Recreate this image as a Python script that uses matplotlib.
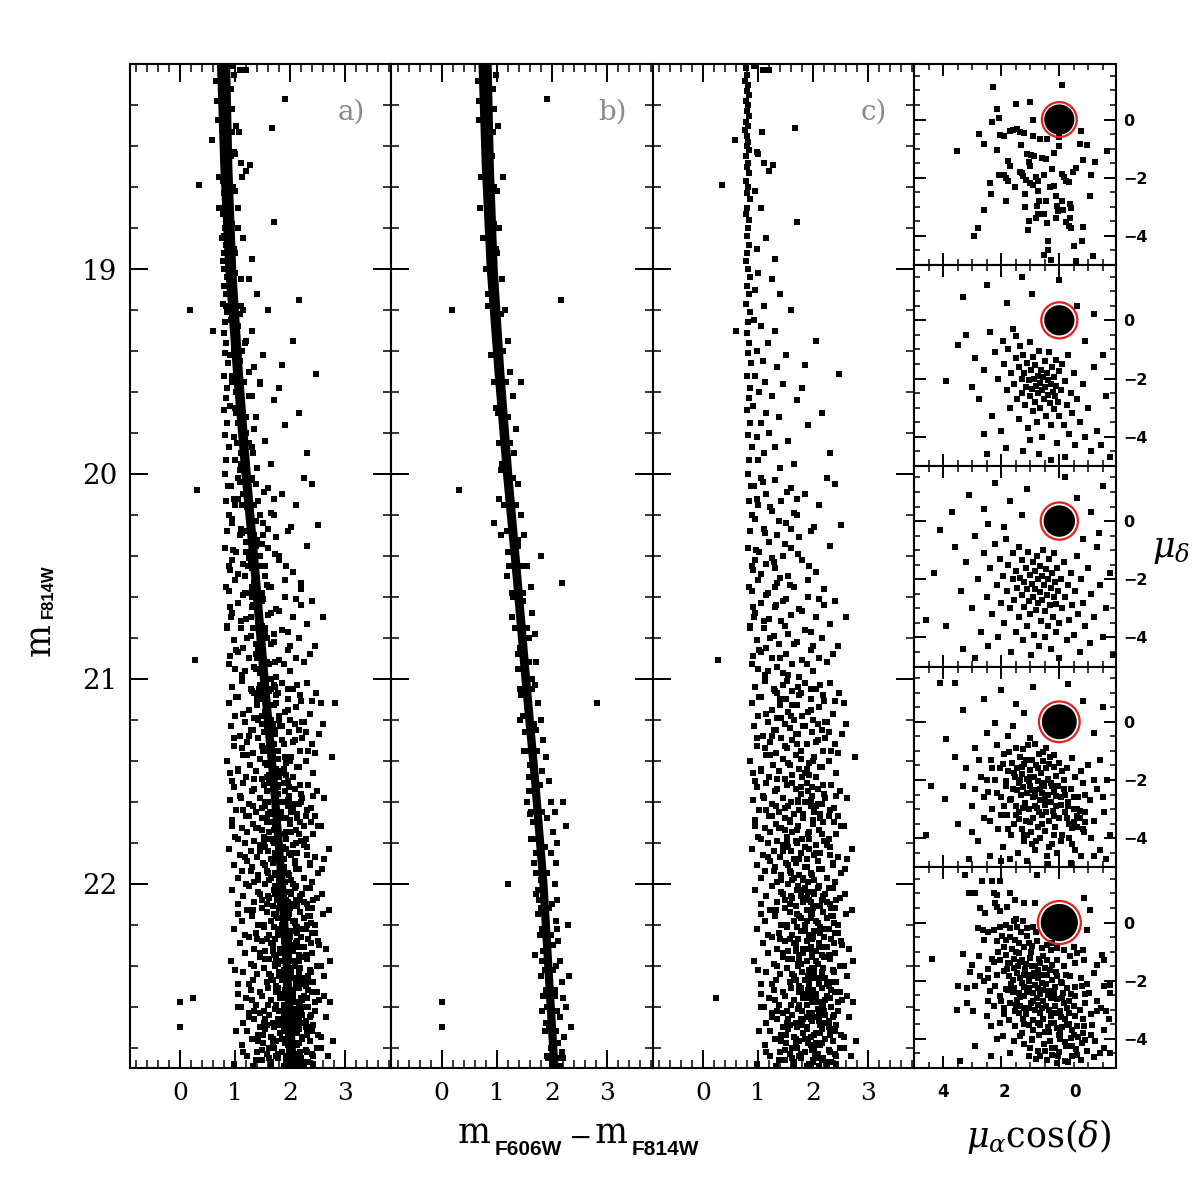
import numpy as np
import matplotlib
matplotlib.use('Agg')
import matplotlib.pyplot as plt
from matplotlib.ticker import MultipleLocator
from matplotlib.patches import Circle

# ---------------- data ----------------
# fiducial ridge of the proper-motion selected members (panel b): mag, colour, width
ridge_mag = [18.0, 18.5, 19.0, 19.5, 20.0, 20.5, 21.0, 21.5, 22.0, 22.5, 22.9]
ridge_col = [0.78, 0.83, 0.91, 1.04, 1.19, 1.36, 1.52, 1.69, 1.84, 1.95, 2.04]
ridge_wid = [0.24, 0.22, 0.20, 0.18, 0.17, 0.16, 0.16, 0.15, 0.15, 0.15, 0.15]

# members scattered around the ridge (colour, mag)
members = [
 (0.98,18.05),(0.95,18.22),(1.02,18.30),(0.92,18.45),(1.00,18.62),(0.70,18.70),(1.05,18.80),(0.98,18.90),(1.91,18.17),(1.12,18.55),
 (1.10,19.05),(0.85,19.12),(1.15,19.20),(1.20,19.35),(0.95,19.42),(1.25,19.50),(1.30,19.62),(1.02,19.70),(1.35,19.78),(1.32,19.90),
 (1.10,19.95),(0.18,19.20),(2.16,19.15),(1.45,19.55),
 (1.38,20.05),(1.05,20.12),(1.45,20.20),(1.50,20.30),(1.20,20.38),(1.55,20.45),(1.62,20.55),(1.30,20.60),(1.65,20.68),(1.70,20.78),
 (1.42,20.85),(1.72,20.92),(0.31,20.08),(0.95,20.24),(2.19,20.53),(1.80,20.40),
 (1.70,21.03),(1.45,21.08),(1.75,21.12),(1.80,21.20),(1.52,21.26),(1.85,21.30),(1.90,21.38),(1.60,21.42),(1.95,21.50),(1.58,21.55),
 (1.98,21.60),(2.05,21.65),(1.66,21.70),(2.02,21.75),(2.10,21.80),(1.72,21.85),(2.08,21.90),(1.75,21.95),(2.82,21.12),(2.25,21.72),
 (2.20,21.60),(1.60,21.66),(1.68,21.90),
 (2.05,22.00),(1.75,22.03),(2.10,22.08),(1.80,22.12),(2.08,22.18),(1.82,22.22),(2.12,22.28),(1.85,22.33),(2.15,22.38),(1.88,22.42),
 (2.18,22.48),(1.90,22.52),(2.20,22.56),(1.92,22.60),(2.15,22.65),(1.95,22.70),(2.22,22.75),(1.98,22.80),(2.20,22.85),(2.00,22.88),
 (1.20,22.00),(0.00,22.58),(0.00,22.70),(2.30,22.20),(2.32,22.45),(2.35,22.70),(1.70,22.35),
 (1.78,21.52),(1.55,21.60),(1.62,21.78),(1.92,21.68),(1.80,21.98),(1.98,21.85),(1.72,22.05),(2.00,22.10),(1.78,22.25),(2.02,22.30),
 (1.80,22.45),(2.08,22.40),(1.85,22.55),(2.10,22.62),(1.88,22.72),(2.12,22.78),(1.92,22.84),(2.15,22.89),(1.82,22.62),(2.05,22.52),
 (2.10,22.22),(1.75,22.15),(2.25,22.60),(2.18,22.82),(1.50,21.35),(1.82,21.45),(1.42,21.20),(1.72,21.25),(1.38,20.95),(1.65,21.00),
 (1.28,20.70),(1.58,20.80),(1.18,20.50),(1.48,20.58),(1.08,20.30),(1.38,20.35),(1.30,20.15),
 (0.66,18.08),(0.93,18.12),(0.68,18.27),(0.94,18.33),(0.71,18.55),(0.96,18.60),(0.76,18.85),(1.00,18.92),(0.84,19.18),(1.08,19.22),
 (0.90,19.42),(1.12,19.40),(0.99,19.68),(1.20,19.72),(1.08,19.98),(1.30,20.02),(1.18,20.28),(1.39,20.32),(1.28,20.58),(1.48,20.62),
 (1.38,20.88),(1.58,20.92),(1.48,21.18),(1.68,21.22),(1.58,21.48),(1.78,21.52),(1.68,21.78),(1.87,21.82),(1.76,22.08),(1.95,22.12),
 (1.83,22.38),(2.02,22.42),(1.90,22.68),(2.08,22.72),(0.67,18.18),(0.92,18.45),(0.95,18.78),(0.80,19.00),(1.16,19.55),(0.95,19.55),
 (1.25,19.85),(1.04,19.85),(1.35,20.15),(1.13,20.15),(1.45,20.45),(1.23,20.45),(1.55,20.75),(1.33,20.75),(1.65,21.05),(1.43,21.05),
 (1.74,21.35),(1.53,21.35),(1.83,21.65),(1.63,21.65),(1.92,21.95),(1.72,21.95),(1.98,22.25),(1.79,22.25),(2.05,22.55),(1.86,22.55),
 (2.11,22.85),(1.93,22.85),
]

# field stars (panel c), colour, mag
field = [
 (0.78,18.02),(0.80,18.05),(0.76,18.08),(0.82,18.10),(0.79,18.13),(0.84,18.15),(0.77,18.18),(0.81,18.20),(0.80,18.23),(0.83,18.25),
 (0.78,18.28),(0.81,18.30),(0.76,18.32),(0.80,18.35),(0.82,18.38),(0.79,18.40),(0.84,18.42),(0.77,18.45),(0.81,18.48),(0.80,18.50),
 (0.83,18.53),(0.78,18.57),(0.82,18.60),(0.79,18.63),(0.85,18.66),(0.80,18.70),(0.77,18.73),(0.83,18.76),(0.81,18.80),(0.79,18.84),
 (0.84,18.88),(0.80,18.92),(0.78,18.96),(0.82,19.00),(0.86,19.04),(0.80,19.08),(0.83,19.12),(0.78,19.17),(0.85,19.21),(0.81,19.26),
 (0.79,19.31),(0.84,19.36),(0.82,19.41),(0.87,19.46),(0.80,19.52),(0.85,19.58),(0.83,19.63),(0.79,19.69),(0.86,19.75),(0.82,19.81),
 (0.88,19.87),(0.84,19.93),(0.81,20.00),(0.87,20.06),(0.83,20.13),(0.89,20.20),(0.85,20.28),(0.82,20.36),(0.88,20.45),(0.84,20.55),
 (0.90,20.65),(0.86,20.75),
 (0.92,18.01),(1.09,18.03),(1.20,18.03),(1.66,18.31),(1.07,18.33),(0.58,18.37),(0.97,18.43),(1.00,18.44),(1.10,18.48),(1.27,18.49),
 (1.20,18.52),(0.34,18.59),(0.95,18.62),(1.05,18.70),(1.71,18.77),(1.15,18.85),(0.98,18.90),(1.30,18.95),
 (1.00,19.02),(1.25,19.05),(0.95,19.10),(1.40,19.12),(1.10,19.18),(1.60,19.20),(0.93,19.25),(1.05,19.28),(1.30,19.30),(1.18,19.36),
 (0.98,19.40),(1.50,19.42),(1.08,19.45),(1.35,19.48),(2.05,19.35),(1.85,19.47),(0.60,19.30),
 (0.95,19.52),(1.12,19.55),(1.45,19.56),(1.02,19.60),(1.25,19.62),(1.70,19.64),(0.90,19.67),(1.15,19.70),(1.38,19.72),(1.05,19.75),
 (1.90,19.76),(1.20,19.80),(0.97,19.82),(1.55,19.84),(1.30,19.87),(1.10,19.90),(2.30,19.90),(1.00,19.93),(1.65,19.95),(1.40,19.97),
 (2.47,19.51),(1.80,19.58),(2.15,19.70),
 (1.05,20.02),(1.30,20.03),(2.25,20.02),(2.40,20.05),(0.92,20.06),(1.60,20.07),(1.15,20.10),(1.85,20.10),(1.42,20.13),(1.00,20.15),
 (2.10,20.15),(1.25,20.18),(1.70,20.20),(0.95,20.22),(1.50,20.24),(1.10,20.27),(1.95,20.28),(1.35,20.30),(1.20,20.33),(2.30,20.35),
 (1.60,20.36),(1.02,20.38),(1.45,20.40),(1.80,20.42),(1.15,20.44),(1.30,20.46),(0.90,20.47),(2.05,20.48),(1.55,20.50),(1.75,20.31),
 (2.50,20.25),(1.25,20.41),
 (1.00,20.52),(1.35,20.53),(1.65,20.55),(2.20,20.56),(0.88,20.57),(1.18,20.58),(1.90,20.60),(1.50,20.61),(2.40,20.62),(1.05,20.63),
 (1.30,20.65),(1.75,20.66),(0.95,20.68),(1.60,20.69),(2.05,20.70),(1.20,20.71),(1.42,20.72),(2.30,20.73),(0.85,20.74),(1.10,20.75),
 (1.85,20.76),(1.55,20.78),(1.28,20.79),(2.15,20.80),(0.98,20.81),(1.70,20.82),(1.38,20.83),(2.45,20.84),(1.15,20.85),(1.95,20.86),
 (1.05,20.87),(1.50,20.88),(0.90,20.89),(1.25,20.90),(1.80,20.91),(2.25,20.92),(1.62,20.93),(1.35,20.94),(1.00,20.95),(2.00,20.96),
 (1.45,20.97),(1.12,20.98),(1.75,20.99),(0.27,20.91),(2.60,20.70),(1.90,20.52),(2.10,20.90),
 (1.08,20.04),(1.52,20.09),(0.98,20.12),(1.22,20.16),(1.65,20.19),(1.38,20.23),(2.02,20.26),(1.12,20.29),(1.48,20.34),(0.96,20.37),
 (1.72,20.39),(1.28,20.43),(1.92,20.45),(1.05,20.49),(1.40,20.51),(1.58,20.54),(1.15,20.59),(2.10,20.61),(1.32,20.64),(1.80,20.67),
 (0.92,20.70),(1.48,20.74),(1.95,20.77),(1.22,20.80),(1.65,20.83),(1.02,20.86),(2.35,20.88),(1.40,20.90),(1.88,20.93),(1.18,20.96),
 (1.55,20.98),(2.20,20.64),(0.95,20.42),(1.70,20.12),(2.00,20.84),(1.30,20.55),(0.88,20.93),(1.60,20.27),(1.10,20.72),(1.45,20.62),
 (1.12,21.01),(1.85,21.02),(2.31,21.02),(1.45,21.03),(0.95,21.04),(2.05,21.05),(1.61,21.06),(1.30,21.06),(2.46,21.07),(1.75,21.08),
 (1.05,21.09),(1.95,21.10),(1.50,21.10),(2.20,21.11),(0.88,21.12),(1.40,21.13),(1.70,21.13),(2.10,21.14),(1.25,21.15),(1.90,21.16),
 (1.55,21.16),(2.35,21.17),(1.00,21.18),(1.80,21.18),(1.35,21.19),(2.00,21.20),(1.65,21.20),(1.18,21.21),(2.25,21.21),(1.48,21.22),
 (1.82,21.23),(0.92,21.23),(1.58,21.24),(2.15,21.25),(1.28,21.25),(1.98,21.26),(1.72,21.27),(2.52,21.27),(1.08,21.28),(1.42,21.29),
 (2.08,21.30),(1.62,21.30),(1.22,21.31),(1.88,21.32),(2.40,21.32),(0.98,21.33),(1.52,21.34),(1.78,21.35),(2.18,21.35),(1.32,21.36),
 (1.68,21.37),(1.15,21.37),(2.02,21.38),(1.45,21.39),(2.28,21.40),(0.85,21.40),(1.92,21.41),(1.58,21.42),(1.26,21.42),(2.12,21.43),
 (1.74,21.44),(1.05,21.44),(1.38,21.45),(2.42,21.46),(1.85,21.46),(1.62,21.47),(1.20,21.48),(2.05,21.48),(1.48,21.49),(0.95,21.50),
 (2.60,21.22),(2.75,21.38),(1.95,21.05),(1.35,21.07),(2.22,21.29),
 (1.52,21.01),(2.12,21.03),(1.28,21.05),(1.78,21.07),(1.02,21.09),(2.40,21.11),(1.62,21.13),(1.95,21.15),(1.15,21.17),(1.42,21.19),
 (2.22,21.21),(1.85,21.23),(1.32,21.25),(1.68,21.27),(0.98,21.29),(2.05,21.31),(1.48,21.33),(2.32,21.35),(1.22,21.37),(1.78,21.39),
 (1.55,21.41),(2.15,21.43),(1.05,21.45),(1.92,21.47),(1.35,21.49),(2.55,21.12),(1.72,21.04),(2.28,21.26),(1.12,21.34),(1.88,21.44),
 (1.60,21.18),(2.00,21.40),(1.40,21.10),(2.45,21.36),(1.80,21.48),(1.25,21.28),(2.18,21.08),(1.70,21.32),(0.90,21.46),(2.08,21.22),
 (1.15,21.51),(1.88,21.51),(2.32,21.52),(1.52,21.52),(0.98,21.53),(2.08,21.54),(1.68,21.54),(1.30,21.55),(2.48,21.55),(1.78,21.56),
 (1.08,21.57),(1.98,21.57),(1.45,21.58),(2.22,21.58),(0.90,21.59),(1.60,21.60),(1.85,21.60),(2.15,21.61),(1.25,21.61),(1.95,21.62),
 (1.55,21.62),(2.38,21.63),(1.02,21.64),(1.75,21.64),(1.38,21.65),(2.02,21.65),(1.65,21.66),(1.20,21.67),(2.28,21.67),(1.48,21.68),
 (1.82,21.68),(0.95,21.69),(1.58,21.69),(2.18,21.70),(1.32,21.71),(2.00,21.71),(1.72,21.72),(2.55,21.72),(1.12,21.73),(1.42,21.73),
 (2.10,21.74),(1.62,21.75),(1.22,21.75),(1.90,21.76),(2.42,21.76),(1.00,21.77),(1.52,21.77),(1.80,21.78),(2.20,21.79),(1.35,21.79),
 (1.70,21.80),(1.18,21.80),(2.05,21.81),(1.45,21.81),(2.30,21.82),(0.88,21.83),(1.92,21.83),(1.60,21.84),(1.28,21.84),(2.12,21.85),
 (1.78,21.85),(1.08,21.86),(1.40,21.87),(2.45,21.87),(1.88,21.88),(1.65,21.88),(1.22,21.89),(2.08,21.89),(1.50,21.90),(0.98,21.91),
 (2.35,21.91),(1.85,21.92),(1.30,21.92),(2.15,21.93),(1.58,21.94),(1.12,21.94),(1.95,21.95),(2.50,21.95),(1.42,21.96),(1.75,21.96),
 (2.25,21.97),(1.05,21.97),(1.62,21.98),(2.02,21.98),(1.35,21.99),(1.90,21.99),(2.62,21.58),(2.70,21.83),(2.58,21.93),(1.98,21.53),
 (1.72,21.59),(2.12,21.66),(1.48,21.74),(1.92,21.78),(2.30,21.86),(1.68,21.90),(2.05,21.62),(1.55,21.82),(2.38,21.70),(1.82,21.97),
 (1.62,21.51),(2.18,21.52),(1.35,21.54),(1.90,21.55),(2.42,21.57),(1.10,21.58),(1.72,21.60),(2.08,21.61),(1.48,21.63),(2.30,21.64),
 (1.82,21.66),(1.25,21.67),(2.00,21.69),(1.58,21.70),(2.50,21.72),(1.38,21.73),(1.92,21.75),(2.15,21.76),(1.05,21.78),(1.68,21.79),
 (2.25,21.81),(1.85,21.82),(1.45,21.84),(2.05,21.85),(1.18,21.87),(1.75,21.88),(2.35,21.90),(1.55,21.91),(2.10,21.93),(1.28,21.94),
 (1.98,21.96),(1.65,21.97),(2.40,21.99),(1.42,21.98),(0.95,21.72),(2.62,21.88),(1.78,21.53),(2.12,21.68),(1.52,21.80),(1.88,21.92),
 (2.20,21.56),(1.32,21.62),(1.70,21.74),(2.02,21.86),(1.60,21.95),(2.28,21.78),(1.15,21.64),(1.95,21.59),(2.45,21.67),(1.82,21.98),
 (1.55,22.00),(2.10,22.01),(1.25,22.01),(1.85,22.02),(2.35,22.02),(1.70,22.03),(0.95,22.03),(2.00,22.04),(1.45,22.05),(2.22,22.05),
 (1.78,22.06),(1.15,22.06),(2.48,22.07),(1.62,22.07),(1.92,22.08),(2.15,22.08),(1.35,22.09),(1.82,22.09),(2.30,22.10),(1.05,22.10),
 (1.68,22.11),(2.05,22.11),(1.48,22.12),(2.40,22.12),(1.88,22.13),(1.22,22.13),(2.18,22.14),(1.58,22.14),(1.98,22.15),(2.60,22.15),
 (1.30,22.16),(1.75,22.16),(2.25,22.17),(1.95,22.17),(1.12,22.18),(1.65,22.18),(2.08,22.19),(2.38,22.19),(1.42,22.20),(1.85,22.20),
 (2.12,22.21),(1.52,22.21),(0.98,22.22),(2.28,22.22),(1.78,22.23),(2.02,22.23),(1.38,22.24),(2.45,22.24),(1.62,22.25),(1.92,22.25),
 (2.20,22.26),(1.25,22.26),(1.72,22.27),(2.32,22.27),(1.88,22.28),(1.48,22.28),(2.10,22.29),(1.08,22.29),(2.52,22.30),(1.68,22.30),
 (1.95,22.31),(2.25,22.31),(1.35,22.32),(1.82,22.32),(2.05,22.33),(1.55,22.33),(2.40,22.34),(1.18,22.34),(1.75,22.35),(2.15,22.35),
 (1.98,22.36),(1.45,22.36),(2.30,22.37),(1.62,22.37),(0.92,22.38),(1.88,22.38),(2.08,22.39),(1.28,22.39),(2.48,22.40),(1.72,22.40),
 (2.18,22.41),(1.52,22.41),(1.92,22.42),(2.35,22.42),(1.15,22.43),(1.80,22.43),(2.02,22.44),(1.40,22.44),(2.62,22.45),(1.65,22.45),
 (2.22,22.46),(1.95,22.46),(1.32,22.47),(1.85,22.47),(2.42,22.48),(1.58,22.48),(2.10,22.49),(1.05,22.49),(1.75,22.50),(2.28,22.50),
 (2.70,22.13),(2.72,22.38),(1.90,22.04),(2.00,22.12),(2.12,22.24),(1.70,22.21),(2.25,22.09),(1.82,22.34),(2.05,22.46),(1.60,22.06),
 (2.32,22.16),(1.98,22.27),(2.15,22.43),(1.88,22.18),(2.38,22.29),(1.78,22.39),(2.08,22.02),(1.68,22.33),(2.20,22.36),(1.92,22.49),
 (1.72,22.01),(2.28,22.02),(1.42,22.04),(2.02,22.05),(1.88,22.07),(2.42,22.08),(1.58,22.10),(2.12,22.11),(1.32,22.13),(1.95,22.14),
 (2.35,22.16),(1.78,22.17),(2.08,22.19),(1.52,22.20),(2.22,22.22),(1.85,22.23),(1.18,22.25),(2.00,22.26),(2.50,22.28),(1.65,22.29),
 (2.15,22.31),(1.92,22.32),(1.45,22.34),(2.28,22.35),(1.75,22.37),(2.05,22.38),(1.35,22.40),(1.98,22.41),(2.38,22.43),(1.62,22.44),
 (2.12,22.46),(1.88,22.47),(1.25,22.49),(2.25,22.49),(1.80,22.03),(2.18,22.06),(1.95,22.09),(2.32,22.12),(1.70,22.15),(2.05,22.18),
 (1.85,22.21),(2.40,22.24),(1.58,22.27),(2.10,22.30),(1.98,22.33),(2.20,22.36),(1.72,22.39),(2.02,22.42),(1.90,22.45),(2.30,22.48),
 (2.58,22.05),(2.65,22.32),(1.05,22.15),(1.00,22.42),(1.48,22.08),(1.40,22.27),(2.45,22.20),(2.55,22.40),(1.55,22.37),(1.68,22.47),
 (1.60,22.51),(2.15,22.51),(1.28,22.52),(1.90,22.52),(2.40,22.53),(1.75,22.53),(1.05,22.54),(2.05,22.54),(1.48,22.55),(2.25,22.55),
 (1.82,22.56),(1.20,22.56),(2.52,22.57),(1.65,22.57),(1.98,22.58),(2.18,22.58),(1.38,22.59),(1.88,22.59),(2.32,22.60),(1.10,22.60),
 (1.72,22.61),(2.08,22.61),(1.52,22.62),(2.45,22.62),(1.92,22.63),(1.25,22.63),(2.22,22.64),(1.62,22.64),(2.02,22.65),(2.65,22.65),
 (1.35,22.66),(1.78,22.66),(2.28,22.67),(1.98,22.67),(1.15,22.68),(1.68,22.68),(2.12,22.69),(2.42,22.69),(1.45,22.70),(1.88,22.70),
 (2.15,22.71),(1.55,22.71),(1.02,22.72),(2.30,22.72),(1.82,22.73),(2.05,22.73),(1.42,22.74),(2.50,22.74),(1.65,22.75),(1.95,22.75),
 (2.22,22.76),(1.30,22.76),(1.75,22.77),(2.35,22.77),(1.90,22.78),(1.50,22.78),(2.12,22.79),(1.12,22.79),(2.55,22.80),(1.70,22.80),
 (1.98,22.81),(2.28,22.81),(1.40,22.82),(1.85,22.82),(2.08,22.83),(1.58,22.83),(2.42,22.84),(1.22,22.84),(1.78,22.85),(2.18,22.85),
 (2.00,22.86),(1.48,22.86),(2.32,22.87),(1.65,22.87),(0.98,22.88),(1.92,22.88),(2.10,22.89),(1.32,22.89),(2.48,22.53),(1.75,22.59),
 (2.20,22.62),(1.55,22.66),(2.38,22.71),(1.85,22.76),(2.02,22.80),(1.62,22.85),(2.25,22.88),(1.95,22.55),(2.10,22.64),(1.80,22.69),
 (2.30,22.74),(1.68,22.79),(2.05,22.84),(2.72,22.58),(2.78,22.77),(0.23,22.56),(2.15,22.60),(1.88,22.65),(2.40,22.83),(1.45,22.63),
 (1.78,22.51),(2.32,22.52),(1.45,22.53),(2.05,22.55),(1.92,22.56),(2.45,22.58),(1.60,22.59),(2.18,22.60),(1.35,22.62),(1.98,22.63),
 (2.38,22.64),(1.82,22.66),(2.10,22.67),(1.52,22.68),(2.28,22.70),(1.88,22.71),(1.22,22.72),(2.02,22.74),(2.55,22.75),(1.68,22.76),
 (2.15,22.78),(1.95,22.79),(1.48,22.81),(2.30,22.82),(1.78,22.83),(2.08,22.85),(1.38,22.86),(2.00,22.87),(2.42,22.88),(1.65,22.89),
 (1.85,22.54),(2.22,22.57),(1.72,22.61),(2.35,22.65),(1.58,22.69),(2.12,22.73),(1.90,22.77),(2.48,22.80),(1.75,22.84),(2.25,22.87),
 (1.05,22.60),(1.15,22.82),(2.62,22.55),(2.68,22.84),(1.30,22.57),(1.42,22.77),(2.00,22.52),(2.20,22.68),(1.62,22.80),(1.95,22.66),
 (2.08,22.58),(1.80,22.62),(2.40,22.72),(1.50,22.74),(2.15,22.86),(1.88,22.89),(2.30,22.56),(1.70,22.70),(2.05,22.78),(1.25,22.65),
]

# vector-point diagrams (mu_a cos d, mu_d) of non-members, five magnitude bins
vpd1 = [
 (2.29,1.11),(-0.08,1.18),(1.02,0.61),(1.48,0.54),(2.13,0.35),(2.08,0.06),(2.33,-0.10),(0.91,0.00),(2.75,-0.49),(2.03,-0.54),
 (1.92,-0.58),(1.71,-0.38),(1.58,-0.35),(1.44,-0.33),(1.34,-0.42),(1.21,-0.47),(0.91,-0.58),(0.68,-0.67),(0.42,-0.67),(0.01,-0.60),
 (-0.75,-0.40),(2.59,-0.83),(1.32,-0.86),(2.13,-1.03),(3.51,-1.09),(0.20,-1.14),(0.01,-0.91),(-0.70,-0.83),(-0.95,-0.88),(-1.64,-1.09),
 (1.11,-1.20),(0.98,-1.22),(0.86,-1.26),(0.60,-1.31),(0.45,-1.34),(1.76,-1.43),(-0.82,-1.40),(-1.24,-1.45),(1.69,-1.60),(1.06,-1.45),
 (1.00,-1.60),(0.24,-1.71),(-0.59,-1.66),(2.08,-1.91),(1.90,-1.89),(1.83,-2.02),(1.78,-2.11),(1.37,-1.79),(1.30,-1.84),(1.25,-1.94),
 (1.52,-2.32),(2.40,-2.17),(2.36,-2.57),(1.85,-2.80),(1.14,-2.06),(1.02,-2.17),(0.89,-2.25),(0.75,-2.11),(0.79,-1.98),(0.52,-1.89),
 (0.33,-2.32),(0.17,-2.28),(-0.10,-1.86),(-0.15,-1.98),(-0.24,-2.11),(-0.33,-2.14),(-0.47,-1.79),(-1.09,-1.91),(-1.07,-2.63),(1.17,-2.57),
 (0.75,-2.46),(0.70,-2.80),(0.77,-2.97),(0.45,-2.80),(0.10,-2.63),(0.08,-2.97),(0.06,-3.14),(-0.13,-3.12),(-0.38,-2.89),(-0.40,-3.05),
 (-0.08,-2.80),(2.59,-3.10),(1.18,-3.00),(1.04,-3.49),(1.07,-3.81),(0.75,-3.26),(0.79,-3.37),(0.52,-3.23),(0.42,-3.57),(0.10,-3.37),
 (-0.24,-3.53),(-0.33,-3.66),(-0.40,-3.71),(-0.38,-3.37),(-0.82,-3.68),(2.79,-3.73),(2.93,-4.01),(-0.49,-4.34),(-0.79,-4.19),(0.38,-4.17),
 (0.40,-4.49),(0.52,-4.67),(0.27,-4.81),(-1.16,-4.70),(-0.56,-4.86),
]
vpd2 = [
 (3.5,-0.85),(3.2,-0.5),(2.9,-1.3),(2.6,-1.7),(2.4,-0.4),(2.2,-1.1),(2.1,-2.0),(1.95,-0.7),(1.9,-1.5),(1.8,-2.4),
 (1.75,-1.0),(1.7,-3.0),(1.65,-1.8),(1.6,-0.3),(1.55,-2.2),(1.5,-1.3),(1.45,-2.7),(1.4,-1.6),(1.38,-3.4),(1.35,-0.9),
 (1.3,-2.0),(1.28,-2.5),(1.25,-1.2),(1.2,-1.8),(1.18,-2.9),(1.15,-2.3),(1.1,-1.45),(1.08,-3.7),(1.05,-2.05),(1.02,-0.75),
 (1.0,-2.6),(0.98,-1.7),(0.95,-2.35),(0.92,-3.1),(0.9,-1.25),(0.88,-2.0),(0.85,-2.8),(0.82,-1.55),(0.8,-2.25),(0.78,-3.5),
 (0.75,-1.9),(0.72,-2.5),(0.7,-1.05),(0.68,-2.15),(0.65,-3.0),(0.62,-1.7),(0.6,-2.4),(0.58,-4.0),(0.55,-1.95),(0.52,-2.7),
 (0.5,-1.4),(0.48,-2.3),(0.45,-3.3),(0.42,-1.8),(0.4,-2.55),(0.38,-2.05),(0.35,-1.1),(0.32,-2.85),(0.3,-2.2),(0.28,-3.6),
 (0.25,-1.6),(0.22,-2.45),(0.2,-1.95),(0.18,-3.05),(0.15,-2.6),(0.12,-1.35),(0.1,-2.25),(0.08,-4.2),(0.05,-2.8),(0.02,-1.75),
 (0.0,-3.3),(-0.05,-2.4),(-0.1,-1.5),(-0.15,-3.6),(-0.2,-2.1),(-0.25,-2.9),(-0.3,-1.2),(-0.35,-3.9),(-0.4,-2.5),(-0.45,-3.2),
 (-0.5,-1.8),(-0.55,-4.3),(-0.6,-2.7),(-0.7,-3.5),(-0.8,-2.2),(-0.9,-4.0),(-1.0,-3.0),(-1.1,-4.5),(-1.2,-1.6),(-1.3,-3.8),
 (-1.45,-4.3),(-1.6,-2.6),(-1.75,-4.7),(2.75,-2.7),(3.0,-2.3),(2.3,-3.3),(2.0,-3.8),(1.85,-4.4),(2.5,-4.6),(3.9,-2.1),
 (1.25,-4.5),(0.7,-4.6),(0.3,-4.8),(-0.2,-4.7),(1.5,-0.55),(0.95,0.9),(1.8,0.6),(2.5,1.2),(0.0,1.4),(-0.6,0.5),
 (-1.2,0.2),(1.3,1.5),(3.3,0.8),(-0.9,-0.7),(-1.5,-1.2),(2.6,-3.9),(1.0,-4.1),
]
vpd3 = [
 (4.3,-1.8),(3.9,-3.6),(3.6,-0.9),(3.4,-2.4),(3.2,-1.4),(3.0,-3.0),(2.9,-0.5),(2.8,-2.0),(2.7,-3.8),(2.6,-1.1),
 (2.5,-2.6),(2.45,-4.3),(2.4,-1.6),(2.3,-3.2),(2.2,-0.8),(2.15,-2.2),(2.1,-4.0),(2.05,-1.3),(2.0,-2.8),(1.95,-1.9),
 (1.9,-3.5),(1.85,-0.6),(1.8,-2.4),(1.75,-1.5),(1.7,-3.0),(1.65,-4.5),(1.6,-2.0),(1.58,-1.1),(1.55,-2.7),(1.5,-3.8),
 (1.48,-1.7),(1.45,-2.3),(1.4,-0.9),(1.38,-3.3),(1.35,-1.95),(1.3,-2.55),(1.28,-1.35),(1.25,-4.1),(1.22,-2.1),(1.2,-2.95),
 (1.15,-1.6),(1.12,-3.6),(1.1,-2.35),(1.08,-1.05),(1.05,-2.75),(1.02,-1.85),(1.0,-3.2),(0.98,-4.6),(0.95,-2.15),(0.92,-1.4),
 (0.9,-2.6),(0.88,-3.9),(0.85,-1.7),(0.82,-2.35),(0.8,-3.05),(0.78,-1.2),(0.75,-2.0),(0.72,-2.8),(0.7,-4.3),(0.68,-1.55),
 (0.65,-2.45),(0.62,-3.45),(0.6,-1.9),(0.58,-2.7),(0.55,-1.0),(0.52,-2.2),(0.5,-3.1),(0.48,-4.0),(0.45,-1.65),(0.42,-2.55),
 (0.4,-3.6),(0.38,-2.0),(0.35,-1.3),(0.32,-2.9),(0.3,-2.3),(0.28,-4.4),(0.25,-1.8),(0.22,-3.3),(0.2,-2.6),(0.18,-1.1),
 (0.15,-2.1),(0.12,-3.8),(0.1,-2.85),(0.08,-1.6),(0.05,-2.4),(0.02,-3.5),(0.0,-4.7),(-0.05,-2.0),(-0.1,-3.0),(-0.15,-1.4),
 (-0.2,-2.6),(-0.25,-4.1),(-0.3,-2.2),(-0.35,-3.4),(-0.4,-1.8),(-0.45,-2.9),(-0.5,-3.9),(-0.55,-2.4),(-0.6,-1.2),(-0.65,-3.2),
 (-0.7,-4.5),(-0.75,-2.0),(-0.8,-2.8),(-0.9,-3.6),(-1.0,-1.6),(-1.05,-4.2),(-1.1,-2.5),(-1.2,-3.3),(-1.3,-0.9),(-1.4,-2.2),
 (-1.5,-4.0),(-1.6,-3.0),(-1.75,-1.8),(-1.85,-4.6),(3.7,0.3),(3.1,0.9),(2.6,0.4),(2.2,1.3),(1.7,0.7),(1.3,0.2),
 (1.1,1.1),(-0.2,1.5),(-0.6,0.8),(-1.1,0.3),(-1.5,1.2),(1.9,-0.2),(2.45,-0.1),(-0.8,-0.6),(-1.35,-0.4),(4.6,-3.4),
 (4.1,-0.3),(3.3,-4.4),(2.9,-4.7),
]
vpd4 = [
 (4.1,1.35),(3.6,1.35),(3.3,0.4),(3.9,-0.6),(4.4,-2.2),(3.93,-2.67),(3.5,-3.5),(3.2,-1.6),(3.0,-2.9),(2.9,-0.9),
 (2.8,-4.1),(2.7,-1.9),(2.6,-3.3),(2.5,-0.4),(2.45,-2.4),(2.4,-4.6),(2.35,-1.3),(2.3,-3.0),(2.2,-2.0),(2.15,-0.8),
 (2.1,-3.7),(2.05,-1.6),(2.0,-2.6),(1.95,-4.3),(1.9,-1.1),(1.85,-2.2),(1.8,-3.2),(1.78,-1.7),(1.75,-0.5),(1.7,-2.7),
 (1.65,-3.9),(1.62,-1.4),(1.6,-2.3),(1.55,-3.5),(1.52,-1.9),(1.5,-0.9),(1.48,-2.9),(1.45,-1.6),(1.42,-4.5),(1.4,-2.1),
 (1.38,-3.1),(1.35,-1.2),(1.32,-2.5),(1.3,-3.7),(1.28,-1.8),(1.25,-2.25),(1.22,-4.1),(1.2,-1.45),(1.18,-2.8),(1.15,-3.4),
 (1.12,-1.95),(1.1,-2.45),(1.08,-0.8),(1.05,-3.0),(1.02,-1.65),(1.0,-2.2),(0.98,-3.8),(0.95,-1.3),(0.92,-2.6),(0.9,-3.3),
 (0.88,-1.9),(0.85,-4.4),(0.82,-2.35),(0.8,-1.5),(0.78,-2.95),(0.75,-3.6),(0.72,-2.05),(0.7,-1.1),(0.68,-2.7),(0.65,-4.0),
 (0.62,-1.75),(0.6,-2.45),(0.58,-3.2),(0.55,-1.35),(0.52,-2.2),(0.5,-3.75),(0.48,-2.85),(0.45,-1.6),(0.42,-4.6),(0.4,-2.5),
 (0.38,-1.95),(0.35,-3.4),(0.32,-1.2),(0.3,-2.75),(0.28,-2.1),(0.25,-4.2),(0.22,-3.05),(0.2,-1.55),(0.18,-2.4),(0.15,-3.6),
 (0.12,-1.85),(0.1,-2.9),(0.08,-4.5),(0.05,-2.2),(0.02,-3.3),(0.0,-1.4),(-0.05,-2.6),(-0.1,-3.9),(-0.15,-2.0),(-0.2,-3.1),
 (-0.25,-1.6),(-0.3,-2.9),(-0.35,-3.5),(-0.4,-2.3),(-0.45,-4.2),(-0.5,-3.0),(-0.55,-1.9),(-0.6,-3.6),(-0.65,-2.6),(-0.7,-3.3),
 (-0.75,-4.6),(-0.8,-2.1),(-0.85,-3.8),(-0.9,-3.1),(-1.0,-1.5),(-1.05,-2.7),(-1.1,-4.0),(-1.2,-3.4),(-1.3,-2.3),(-1.4,-4.4),
 (-1.41,-1.3),(-1.55,-3.1),(-1.65,-2.0),(-1.75,-3.9),(-1.2,-0.4),(-0.8,0.7),(-0.3,1.3),(0.9,1.2),(1.5,0.6),(2.0,1.1),
 (2.6,0.8),(1.2,0.3),(2.2,-0.05),(-1.5,0.5),(3.6,-1.2),(4.6,-3.9),(3.1,-4.7),(2.0,-4.8),(1.1,-4.8),(0.4,-4.9),
 (-0.4,-4.85),(1.7,-4.7),(0.95,-4.2),(1.6,-0.15),(2.9,-2.3),(2.3,-1.6),(1.9,-2.9),(1.35,-2.0),(1.0,-1.9),(0.6,-2.1),
 (0.85,-2.9),(0.45,-3.1),(0.2,-3.9),(-0.2,-2.5),(-0.6,-3.0),(-0.9,-2.5),(-0.5,-2.6),(-0.35,-4.0),(1.5,-3.2),(1.1,-3.9),
 (2.5,-2.0),
 (1.72,-1.05),(1.25,-0.95),(0.85,-0.75),(0.45,-0.9),(1.95,-1.45),(1.55,-1.75),(1.15,-1.3),(0.75,-1.6),(0.35,-1.45),(-0.1,-1.7),
 (1.82,-2.05),(1.45,-2.35),(1.05,-2.05),(0.65,-2.3),(0.25,-2.2),(-0.15,-2.3),(1.65,-2.65),(1.25,-2.95),(0.85,-2.55),(0.5,-2.65),
 (0.1,-2.55),(-0.3,-2.75),(1.4,-3.35),(1.0,-3.45),(0.6,-3.5),(0.2,-3.25),(-0.25,-3.3),(-0.5,-3.45),(-0.7,-3.05),(-0.9,-3.45),
 (-0.45,-3.65),(-0.8,-3.7),(-0.6,-3.25),(1.2,-3.9),(0.8,-4.1),(0.35,-4.3),(-0.05,-4.1),(-0.55,-4.4),(2.15,-2.45),(2.4,-3.4),
 (2.0,-3.2),(1.75,-3.7),(2.6,-2.6),(2.75,-1.3),(3.3,-2.2),(3.0,-3.8),(-1.2,-2.0),(-1.5,-2.6),(-1.2,-4.6),(-1.6,-4.7),
 (0.55,-1.05),(1.0,-0.55),(0.2,-1.15),(-0.45,-1.25),(-0.75,-1.7),(1.3,-1.55),(0.95,-2.35),(0.4,-2.0),(-0.05,-2.85),(0.7,-3.1),
]
vpd5 = [
 (3.24,1.64),(2.66,1.44),(2.32,1.44),(2.03,1.44),(0.77,1.64),(3.12,1.01),(2.89,1.01),(2.26,1.01),(2.15,0.95),(1.69,1.01),
 (1.51,0.78),(1.20,0.66),(-0.86,0.84),(2.72,0.49),(2.55,0.32),(2.20,0.66),(2.15,0.55),(2.03,0.41),(1.80,0.55),(1.48,0.12),
 (1.25,0.04),(0.83,0.66),(-1.05,0.44),(2.81,-0.19),(2.63,-0.27),(2.47,-0.31),(2.26,-0.27),(2.03,-0.14),(1.83,-0.08),(1.71,-0.19),
 (1.57,0.04),(1.46,-0.14),(1.32,-0.31),(1.11,-0.19),(0.91,-0.14),(0.79,-0.31),(-0.96,-0.27),(2.15,-0.62),(1.97,-0.46),(1.83,-0.59),
 (1.69,-0.48),(1.51,-0.59),(1.40,-0.71),(1.23,-0.84),(1.05,-0.71),(0.94,-0.82),(0.77,-0.65),(0.60,-0.88),(0.42,-0.76),(0.25,-0.71),
 (0.08,-0.88),(-0.15,-0.94),(-0.50,-0.84),(-0.61,-1.05),(-0.82,-0.94),(4.39,-1.26),(3.32,-1.07),(2.77,-1.16),(3.01,-1.45),(2.26,-1.34),
 (2.03,-1.28),(1.78,-1.39),(1.57,-1.26),(1.43,-1.48),(1.28,-1.28),(1.14,-1.42),(1.00,-1.22),(0.83,-1.51),(0.65,-1.39),(0.42,-1.28),
 (0.25,-1.45),(0.08,-1.28),(-0.15,-1.48),(-0.36,-1.16),(-0.55,-1.39),(-0.86,-1.28),(-1.30,-1.45),(-1.55,-1.28),(-1.47,-1.11),(3.07,-1.71),
 (2.72,-1.85),(2.44,-1.91),(2.15,-1.79),(1.92,-1.68),(1.74,-1.85),(1.60,-1.99),(1.46,-1.74),(1.34,-1.91),(1.20,-1.79),(1.05,-2.02),
 (0.88,-1.74),(0.74,-1.91),(0.60,-2.08),(0.42,-1.79),(0.25,-1.99),(0.08,-1.85),(-0.09,-2.08),(-0.24,-1.79),(-0.38,-1.85),(-0.73,-1.91),
 (-0.96,-2.10),(-1.19,-1.74),(-1.76,-2.14),(3.47,-2.19),(3.18,-2.25),(2.89,-2.19),(2.38,-2.36),(2.20,-2.19),(2.03,-2.54),(1.78,-2.33),
 (1.57,-2.25),(1.40,-2.42),(1.23,-2.54),(1.05,-2.25),(0.91,-2.42),(0.77,-2.59),(0.56,-2.31),(0.40,-2.48),(0.19,-2.36),(0.08,-2.63),
 (-0.13,-2.42),(-0.27,-2.25),(-0.55,-2.54),(-0.78,-2.19),(-1.01,-2.42),(-1.53,-2.19),(-1.74,-2.42),(3.53,-2.99),(3.18,-2.76),(2.97,-3.05),
 (2.44,-2.71),(2.24,-2.88),(1.92,-2.94),(1.69,-2.76),(1.51,-3.05),(1.34,-2.88),(1.14,-3.16),(0.97,-2.76),(0.83,-2.99),(0.65,-3.11),
 (0.45,-2.88),(0.28,-3.22),(0.14,-2.88),(-0.01,-3.05),(-0.17,-2.76),(-0.32,-3.11),(-0.50,-2.88),(-0.70,-2.99),(-0.90,-2.76),(-1.09,-3.16),
 (-1.28,-3.05),(-1.42,-2.94),(-1.70,-3.31),(2.35,-3.56),(2.03,-3.45),(1.74,-3.34),(1.51,-3.56),(1.28,-3.79),(1.05,-3.51),(0.91,-3.68),
 (0.68,-3.51),(0.48,-3.77),(0.28,-3.45),(0.08,-3.62),(-0.04,-3.79),(-0.27,-3.51),(-0.44,-3.68),(-0.61,-3.56),(-0.82,-3.79),(-1.13,-3.51),
 (-1.53,-3.70),(2.89,-4.25),(2.15,-4.02),(1.57,-4.08),(1.37,-3.91),(1.20,-4.19),(0.94,-4.02),(0.74,-4.42),(0.54,-4.19),(0.33,-4.08),
 (0.14,-4.31),(-0.04,-4.02),(-0.24,-4.25),(-0.40,-3.96),(-0.59,-4.36),(-0.78,-4.14),(-0.96,-4.42),(-1.24,-4.08),(-1.53,-4.31),(3.41,-4.76),
 (2.35,-4.59),(1.69,-4.48),(1.05,-4.59),(0.65,-4.59),(0.42,-4.71),(0.25,-4.54),(0.08,-4.82),(-0.21,-4.76),(-0.44,-4.59),(-0.73,-4.71),
 (-1.19,-4.62),(-1.76,-4.48),
 (1.62,-0.92),(1.38,-1.05),(0.98,-1.02),(0.55,-1.15),(1.85,-1.12),(1.18,-1.60),(0.95,-1.48),(0.72,-1.62),(1.55,-1.55),(0.32,-1.62),
 (1.05,-1.80),(0.62,-1.82),(1.28,-2.08),(0.85,-2.15),(0.45,-2.10),(1.65,-2.10),(0.15,-2.20),(1.10,-2.40),(0.68,-2.45),(0.30,-2.60),
 (1.45,-2.65),(0.90,-2.70),(0.55,-2.70),(0.20,-2.55),(-0.10,-2.60),(1.20,-2.95),(0.72,-2.85),(0.35,-3.00),(-0.05,-3.25),(0.55,-3.30),
 (0.90,-3.35),(0.20,-3.45),(-0.20,-3.30),(1.25,-3.30),(-0.35,-3.50),(0.40,-3.60),(0.00,-3.85),(0.70,-3.85),(-0.20,-4.10),(0.25,-4.30),
 (1.00,-4.30),(-0.60,-4.55),(0.05,-4.60),(1.90,-0.85),(2.10,-1.00),(1.70,-1.40),(2.45,-1.60),(1.85,-2.30),(1.35,-2.55),(-0.55,-2.20),
 (-0.35,-2.70),(-0.80,-3.30),(-0.90,-2.45),(-0.65,-3.95),(0.80,-4.70),(-0.30,-4.80),(1.40,-3.10),(1.95,-3.90),(2.50,-3.20),(2.60,-0.60),
 (1.50,-1.00),(1.10,-0.45),(0.70,-1.25),(0.30,-0.95),(1.80,-1.60),(1.35,-1.35),(0.85,-1.85),(0.50,-1.55),(0.10,-1.70),(1.60,-2.40),
 (1.20,-2.20),(0.75,-2.25),(0.35,-2.35),(-0.05,-2.05),(-0.40,-2.45),(1.50,-2.85),(1.05,-2.95),(0.60,-2.95),(0.15,-3.10),(-0.25,-2.95),
 (-0.55,-3.20),(1.20,-3.50),(0.75,-3.45),(0.35,-3.75),(-0.10,-3.60),(-0.50,-3.85),(-0.85,-3.55),(0.95,-4.05),(0.50,-4.40),(0.00,-4.45),
 (-0.45,-4.25),(-0.90,-4.05),(2.00,-2.70),(2.30,-1.25),(2.60,-2.00),(1.90,-3.15),(-1.30,-2.70),(-1.10,-3.85),(-1.40,-4.50),(-1.60,-3.05),
]
vpd_field = [vpd1, vpd2, vpd3, vpd4, vpd5]
cluster_pm = (0.0, 0.0)                      # mean cluster proper motion
blob_r = [0.52, 0.52, 0.54, 0.60, 0.64]      # extent of the member clump
sel_r = [0.60, 0.62, 0.64, 0.70, 0.74]       # membership selection radius

panel_tags = ['a)', 'b)', 'c)']
cmd_xticks = [0, 1, 2, 3]
cmd_yticks = [19, 20, 21, 22]
vpd_xticks = [4, 2, 0]
vpd_yticks = [0, -2, -4]

# ---------------- figure ----------------
plt.rcParams['font.family'] = ['DejaVu Serif', 'DejaVu Sans']
plt.rcParams['mathtext.fontset'] = 'dejavuserif'

W = 1196.0
fig = plt.figure(figsize=(11.96, 11.96), dpi=100)

def fx(px):
    return px / W

def fy(py):
    return 1.0 - py / W

top_px, bot_px = 64.3, 1068.0
cmd_left, cmd_w = 129.5, 261.5
vpd_left, vpd_w = 914.0, 202.0
MS = 14

mem = np.array(members)
fld = np.array(field)

def style_axes(ax, majlen, minlen):
    for s in ax.spines.values():
        s.set_linewidth(1.5)
    ax.tick_params(which='both', direction='in', top=True, bottom=True, left=True, right=True)
    ax.tick_params(which='major', length=majlen, width=1.4)
    ax.tick_params(which='minor', length=minlen, width=1.1)

for i in range(3):
    ax = fig.add_axes([fx(cmd_left + i * cmd_w), fy(bot_px), cmd_w / W, (bot_px - top_px) / W])
    if i in (0, 1):
        ax.fill_betweenx(ridge_mag, np.array(ridge_col) - np.array(ridge_wid) / 2,
                         np.array(ridge_col) + np.array(ridge_wid) / 2, color='k', lw=0)
        ax.scatter(mem[:, 0], mem[:, 1], s=MS, marker='s', c='k', linewidths=0)
    if i in (0, 2):
        ax.scatter(fld[:, 0], fld[:, 1], s=MS, marker='s', c='k', linewidths=0)
    ax.set_xlim(-0.92, 3.83)
    ax.set_ylim(22.9, 18.0)
    ax.xaxis.set_minor_locator(MultipleLocator(0.2))
    ax.yaxis.set_minor_locator(MultipleLocator(0.2))
    ax.set_xticks(cmd_xticks)
    ax.set_xticklabels([str(v) for v in cmd_xticks], fontsize=18)
    ax.set_yticks(cmd_yticks)
    if i == 0:
        ax.set_yticklabels([str(v) for v in cmd_yticks], fontsize=20)
    else:
        ax.set_yticklabels([])
    style_axes(ax, 13, 6)
    ax.tick_params(axis='x', which='major', pad=10)
    ax.tick_params(axis='y', which='major', pad=9)
    ax.text(0.847, 0.952, panel_tags[i], transform=ax.transAxes, ha='center', va='center',
            fontsize=20, color='#8a8a8a')

vh = (bot_px - top_px) / 5.0
for k in range(5):
    y_top = top_px + k * vh
    ax = fig.add_axes([fx(vpd_left), fy(y_top + vh), vpd_w / W, vh / W])
    pts = np.array(vpd_field[k])
    ax.scatter(pts[:, 0], pts[:, 1], s=MS, marker='s', c='k', linewidths=0, zorder=2)
    ax.add_patch(Circle(cluster_pm, blob_r[k], color='k', lw=0, zorder=3))
    ax.add_patch(Circle(cluster_pm, sel_r[k], fill=False, ec='#e3201b', lw=1.6, zorder=4))
    ax.set_xlim(5.0, -1.95)
    ax.set_ylim(-5.0, 1.9)
    ax.xaxis.set_minor_locator(MultipleLocator(0.5))
    ax.yaxis.set_minor_locator(MultipleLocator(0.5))
    ax.set_xticks(vpd_xticks)
    ax.set_xticklabels([])
    ax.set_yticks(vpd_yticks)
    ax.set_yticklabels(['0', '\u22122', '\u22124'], fontsize=11.5, fontweight='bold', fontfamily='DejaVu Sans')
    style_axes(ax, 8.5, 4.3)
    ax.tick_params(axis='y', labelleft=False, labelright=True, pad=5)
    if k == 4:
        for v, dx in zip(vpd_xticks, [0, 2, 11]):
            ax.annotate(str(v), xy=(v, 0), xycoords=('data', 'axes fraction'),
                        xytext=(dx, -11), textcoords='offset points', ha='center', va='top',
                        fontsize=12, fontweight='bold', fontfamily='DejaVu Sans')

# ---------------- axis labels ----------------
sub_font = dict(family='Liberation Sans', weight='bold')
# x label  m_F606W - m_F814W
fig.text(fx(458), fy(1143), 'm', fontsize=25, ha='left', va='baseline', family='DejaVu Serif')
fig.text(fx(495), fy(1155), 'F606W', fontsize=15, ha='left', va='baseline', **sub_font)
fig.text(fx(581), fy(1138), '\u2212', fontsize=20, ha='center', va='center', family='DejaVu Sans')
fig.text(fx(595), fy(1143), 'm', fontsize=25, ha='left', va='baseline', family='DejaVu Serif')
fig.text(fx(632), fy(1155), 'F814W', fontsize=15, ha='left', va='baseline', **sub_font)

# y label  m_F814W (rotated)
fig.text(fx(50), fy(656), 'm', fontsize=25, rotation=90, rotation_mode='anchor',
         ha='left', va='baseline', family='DejaVu Serif')
fig.text(fx(53), fy(618), 'F814W', fontsize=12, rotation=90, rotation_mode='anchor',
         ha='left', va='baseline', **sub_font)

# proper-motion labels
fig.text(fx(1039), fy(1147), r'$\mu_{\alpha}\mathrm{cos}(\delta)$', fontsize=25, ha='center', va='baseline')
fig.text(fx(1171), fy(557), r'$\mu_{\delta}$', fontsize=25, ha='center', va='baseline')

fig.savefig('out.png', dpi=100)
